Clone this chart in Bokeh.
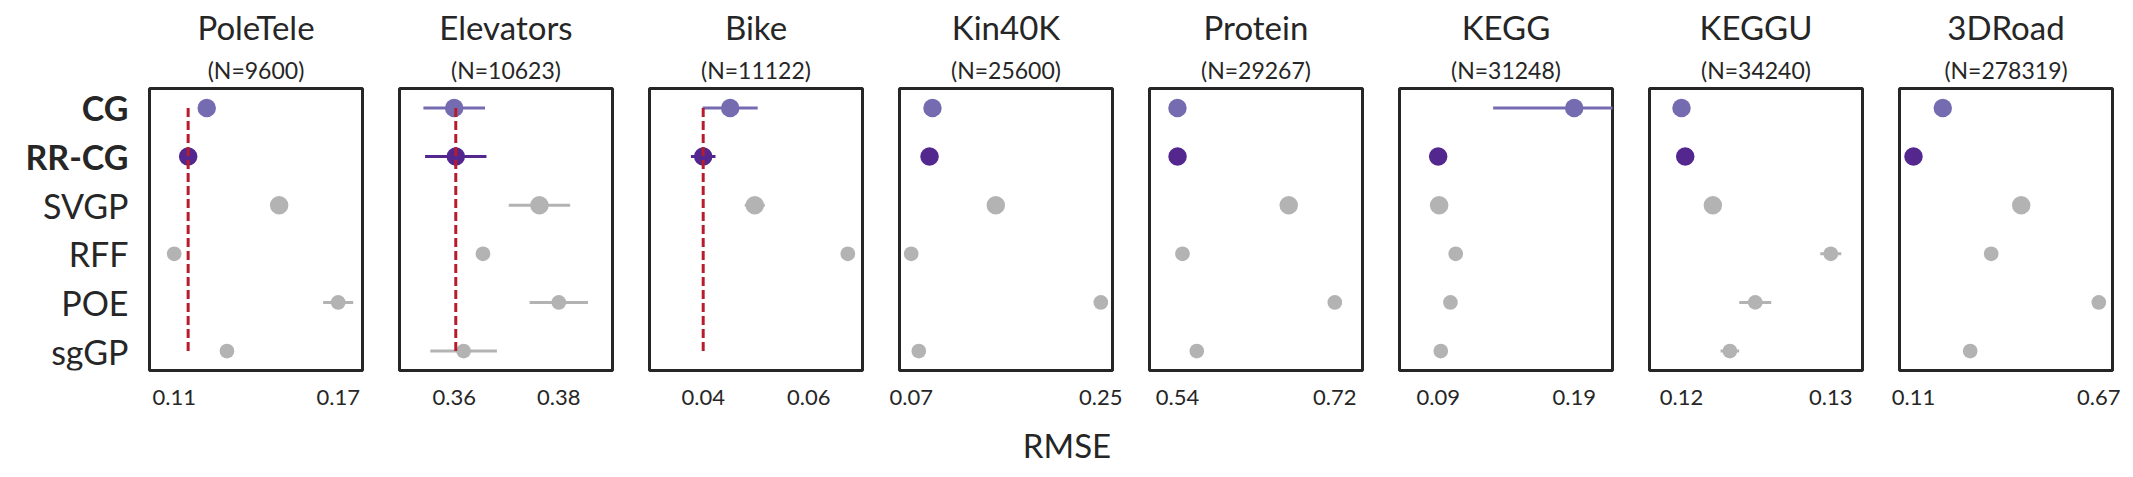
import math
from bokeh.plotting import figure
from bokeh.layouts import row, column
from bokeh.models import Range1d, FixedTicker, PrintfTickFormatter, Title, ColumnDataSource
from bokeh.core.properties import value
from bokeh.embed import file_html
from bokeh.resources import INLINE

nan = float("nan")

# ---------------- data ----------------
datasets = ["PoleTele", "Elevators", "Bike", "Kin40K", "Protein", "KEGG", "KEGGU", "3DRoad"]
n_points = [9600, 10623, 11122, 25600, 29267, 31248, 34240, 278319]
methods = ["CG", "RR-CG", "SVGP", "RFF", "POE", "sgGP"]
bold_methods = ["CG", "RR-CG"]

rmse_cg = [0.1219, 0.3600, 0.04511, 0.0902, 0.5400, 0.1900, 0.1200, 0.1985]
rmse_rrcg = [0.1151, 0.3603, 0.0400, 0.0874, 0.5401, 0.0900, 0.12025, 0.1100]
rmse_svgp = [0.1484, 0.3763, 0.04977, 0.1503, 0.6673, 0.0907, 0.1221, 0.4355]
rmse_rff = [0.1100, 0.3655, 0.06739, 0.0700, 0.5457, 0.1029, 0.1300, 0.3448]
rmse_poe = [0.1700, 0.3800, nan, 0.2500, 0.7200, 0.0990, 0.12494, 0.6700]
rmse_sggp = [0.1293, 0.3618, nan, 0.0772, 0.5621, 0.0919, 0.12324, 0.2813]

err_cg = [0.0, 0.00589, 0.00521, 0.0, 0.0, 0.0596, 0.0, 0.0]
err_rrcg = [0.0, 0.00587, 0.00233, 0.0, 0.0, 0.0, 0.0, 0.0]
err_svgp = [0.0, 0.00587, 0.0019, 0.0, 0.0, 0.0, 0.0, 0.0]
err_rff = [0.0, 0.0, 0.0, 0.0, 0.0, 0.0, 0.000703, 0.0]
err_poe = [0.0055, 0.00558, nan, 0.0, 0.0, 0.0, 0.00107, 0.0]
err_sggp = [0.0, 0.00637, nan, 0.0, 0.0, 0.0, 0.000623, 0.0]

tick_lo = [0.11, 0.36, 0.04, 0.07, 0.54, 0.09, 0.12, 0.11]
tick_hi = [0.17, 0.38, 0.06, 0.25, 0.72, 0.19, 0.13, 0.67]
ref_line = [True, True, True, False, False, False, False, False]

# axis limits per panel
x_lo = [0.10096, 0.34954, 0.02983, 0.0589, 0.508, 0.06156, 0.117856, 0.0677]
x_hi = [0.1789, 0.39027, 0.07017, 0.2611, 0.7517, 0.21815, 0.132124, 0.7114]

all_rmse = [rmse_cg, rmse_rrcg, rmse_svgp, rmse_rff, rmse_poe, rmse_sggp]
all_err = [err_cg, err_rrcg, err_svgp, err_rff, err_poe, err_sggp]

# ---------------- styles ----------------
FONT = "Lato"
TXT = "#262626"
method_colors = ["#756bb1", "#54278f", "#b3b3b3", "#b3b3b3", "#b3b3b3", "#b3b3b3"]
marker_sizes = [18.5, 18.5, 18.5, 14.7, 14.7, 14.7]
REF_COLOR = "#b71c2c"
FRAME_W, FRAME_H = 213, 282
TOP, BOTTOM = 88, 50
LAB_W = 131

y_idx = list(range(len(methods)))

# left label figure
lab = figure(frame_width=LAB_W, frame_height=FRAME_H, x_range=Range1d(0, 1),
             y_range=Range1d(len(methods) - 0.6, -0.4),
             x_axis_location=None, y_axis_location=None, toolbar_location=None,
             output_backend="svg", min_border=0, min_border_top=TOP,
             min_border_bottom=BOTTOM, outline_line_color=None)
lab.xgrid.visible = False
lab.ygrid.visible = False
for bold in (True, False):
    ys = [i for i, m in enumerate(methods) if (m in bold_methods) == bold]
    lab.text(x=[1.0] * len(ys), y=ys, text=[methods[i] for i in ys],
             text_align="right", text_baseline="middle", x_offset=-3,
             text_font=value(FONT), text_font_size="34px",
             text_font_style="bold" if bold else "normal", text_color=TXT)

panels = []
for j, name in enumerate(datasets):
    vals = [all_rmse[k][j] for k in range(len(methods))]
    errs = [all_err[k][j] for k in range(len(methods))]
    p = figure(frame_width=FRAME_W, frame_height=FRAME_H,
               x_range=Range1d(x_lo[j], x_hi[j]),
               y_range=Range1d(len(methods) - 0.6, -0.4),
               y_axis_location=None, toolbar_location=None, output_backend="svg",
               min_border=0, min_border_left=18,
               min_border_right=19,
               min_border_top=TOP, min_border_bottom=BOTTOM,
               title=name)
    p.title.align = "center"
    p.title.text_font = FONT
    p.title.text_font_size = "33px"
    p.title.text_font_style = "normal"
    p.title.text_color = TXT
    p.title.standoff = 4
    p.add_layout(Title(text=f"(N={n_points[j]})", align="center", text_font=FONT,
                       text_font_size="23px", text_font_style="normal",
                       text_color=TXT, standoff=10), "above")
    p.xgrid.visible = False
    p.ygrid.visible = False
    p.outline_line_color = TXT
    p.outline_line_width = 3
    ax = p.xaxis[0]
    ax.ticker = FixedTicker(ticks=[tick_lo[j], tick_hi[j]])
    ax.formatter = PrintfTickFormatter(format="%.2f")
    ax.axis_line_color = None
    ax.major_tick_line_color = None
    ax.minor_tick_line_color = None
    ax.major_tick_out = 0
    ax.major_tick_in = 0
    ax.major_label_standoff = 19
    ax.major_label_text_font = FONT
    ax.major_label_text_font_size = "22px"
    ax.major_label_text_color = TXT

    src = ColumnDataSource(dict(
        y=y_idx, x=vals,
        x0=[v - e for v, e in zip(vals, errs)],
        x1=[v + e for v, e in zip(vals, errs)],
        color=method_colors, size=marker_sizes))
    p.segment(x0="x0", y0="y", x1="x1", y1="y", source=src, line_color="color",
              line_width=3, line_cap="butt")
    p.scatter(x="x", y="y", size="size", fill_color="color", line_color=None, source=src)
    if ref_line[j]:
        rr = rmse_rrcg[j]
        p.segment(x0=[rr], y0=[y_idx[0]], x1=[rr], y1=[y_idx[-1]],
                  line_color=REF_COLOR, line_width=3, line_dash="9 4", line_cap="butt")
    panels.append(p)

total_w = LAB_W + len(datasets) * (18 + FRAME_W + 19)
rm = figure(width=total_w, height=48, x_range=Range1d(0, 1), y_range=Range1d(0, 1),
            x_axis_location=None, y_axis_location=None, toolbar_location=None,
            output_backend="svg", min_border=0, outline_line_color=None)
rm.xgrid.visible = False
rm.ygrid.visible = False
rm.text(x=[0.5], y=[0.5], text=["RMSE"], text_align="center", text_baseline="middle",
        x_offset=1, text_font=value(FONT), text_font_size="33px", text_color=TXT)

layout = column(row(lab, *panels), rm)
open("out.html", "w").write(file_html(layout, INLINE))
